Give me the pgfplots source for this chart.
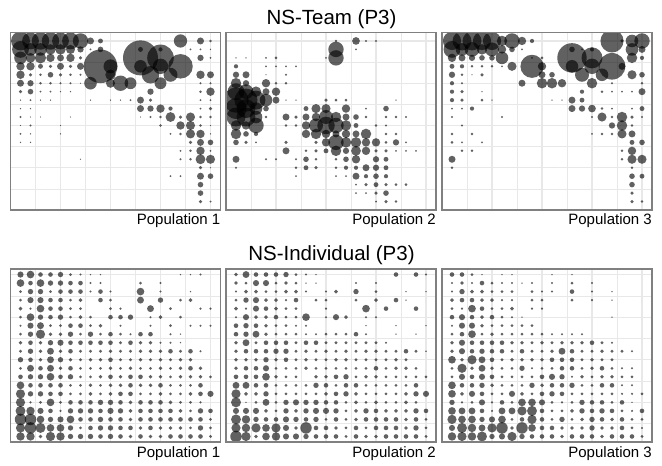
\documentclass[border=0pt]{standalone}
\usepackage{fontspec}
\setmainfont{Liberation Sans}
\usepackage{pgfplots}
\usepackage{pgfplotstable}
\pgfplotsset{compat=1.18}

% bubble radii (in 1/3 px units), rows j=1..20 from top, columns c1..c20
\pgfplotstableread{
j c1 c2 c3 c4 c5 c6 c7 c8 c9 c10 c11 c12 c13 c14 c15 c16 c17 c18 c19 c20
1 27 24 25 25 24 24 22 10 7 0 0 0 0 0 0 0 19 0 10 4
2 24 18 18 15 15 13 9 3 8 0 0 0 7 0 6 0 0 3 3 2
3 18 14 16 12 10 12 5 0 0 0 0 0 50 0 38 0 0 0 9 3
4 12 12 7 5 10 5 10 0 48 20 0 0 18 0 22 0 35 0 0 0
5 12 5 4 8 5 4 3 0 0 15 0 0 0 25 0 20 0 0 12 10
6 10 9 4 4 3 3 2 18 0 13 22 17 0 0 17 0 0 0 3 3
7 5 8 3 3 2 2 0 0 0 0 0 0 0 9 0 0 0 0 4 12
8 2 3 2 2 0 0 0 2 0 2 2 3 10 5 0 0 0 0 3 3
9 2 2 0 0 0 0 0 0 0 0 0 0 10 9 12 6 0 0 3 5
10 3 2 2 0 0 2 0 0 0 0 0 0 2 3 4 14 5 13 4 4
11 2 3 0 0 2 0 0 0 0 0 0 0 0 0 4 0 12 13 4 2
12 3 2 0 0 2 0 0 0 0 0 0 0 0 0 0 3 4 13 12 2
13 2 2 0 0 0 0 0 0 0 0 0 0 0 0 0 0 0 5 10 8
14 0 0 0 0 0 0 0 0 0 0 0 0 0 0 0 0 3 4 12 3
15 0 0 0 0 0 0 2 0 0 0 0 0 0 0 0 0 3 4 14 13
16 0 0 0 0 0 0 0 0 0 0 0 0 0 0 0 0 0 0 5 2
17 0 0 0 0 0 0 0 0 0 0 0 0 0 0 0 3 3 0 10 8
18 0 0 0 0 0 0 0 0 0 0 0 0 0 0 0 0 0 0 8 0
19 0 0 0 0 0 0 0 0 0 0 0 0 0 0 0 0 0 0 8 0
20 0 0 0 0 0 0 0 0 0 0 0 0 0 0 0 0 0 0 5 3
}\tA

\pgfplotstableread{
j c1 c2 c3 c4 c5 c6 c7 c8 c9 c10 c11 c12 c13 c14 c15 c16 c17 c18 c19 c20
1 0 0 0 0 0 0 0 0 0 0 4 0 11 3 3 0 0 0 0 0
2 0 0 0 0 0 0 0 0 0 0 22 0 3 0 0 0 0 0 0 0
3 2 2 0 3 4 0 0 0 0 3 22 0 0 0 0 0 0 0 0 0
4 6 0 0 3 3 3 3 0 0 0 0 0 0 0 0 0 0 0 0 0
5 9 10 0 2 0 3 0 0 0 0 0 0 0 0 0 0 0 0 0 0
6 15 9 0 12 4 4 0 0 0 0 0 0 0 0 0 0 0 0 0 0
7 24 21 15 10 12 0 0 0 0 0 0 0 0 0 0 0 0 0 0 0
8 36 33 27 18 10 2 2 0 0 5 4 4 0 0 0 0 2 0 0 0
9 30 27 18 8 0 0 0 7 13 13 0 12 0 3 0 8 0 0 0 0
10 27 27 18 4 0 10 5 10 12 20 15 10 8 4 0 4 4 3 0 0
11 15 12 22 0 0 4 4 12 20 25 22 15 7 0 4 3 0 0 0 0
12 15 8 6 0 0 0 0 12 15 12 10 12 10 15 0 4 4 0 0 0
13 8 5 3 0 0 5 0 0 5 12 22 15 15 12 12 4 9 3 0 0
14 0 0 0 0 0 10 0 4 5 7 15 9 14 12 5 5 3 3 3 0
15 10 0 0 3 3 0 3 8 4 0 4 8 12 0 9 7 0 0 0 0
16 3 0 0 0 0 0 4 7 5 0 4 6 6 10 9 7 0 0 0 0
17 0 0 0 0 0 0 3 0 0 0 3 3 10 6 8 6 0 0 0 0
18 0 0 0 0 0 0 0 0 0 0 0 0 3 5 7 5 4 4 0 0
19 0 0 0 0 0 0 0 0 0 0 0 0 3 3 5 8 0 0 0 0
20 0 0 0 0 0 0 0 0 0 0 0 0 0 0 3 5 4 0 0 0
}\tB

\pgfplotstableread{
j c1 c2 c3 c4 c5 c6 c7 c8 c9 c10 c11 c12 c13 c14 c15 c16 c17 c18 c19 c20
1 26 27 27 26 26 15 22 12 6 0 0 0 0 0 0 0 33 5 18 22
2 24 18 21 15 20 12 8 3 0 0 0 0 8 3 6 0 0 0 18 10
3 12 10 9 8 8 18 0 0 3 4 0 0 42 0 30 0 0 0 15 6
4 7 6 4 4 4 3 13 0 33 12 0 0 18 0 22 0 38 10 0 0
5 9 4 2 5 0 0 0 0 0 10 8 0 0 20 0 18 0 0 13 8
6 6 3 0 0 0 0 0 10 0 15 15 12 0 0 15 0 3 0 0 4
7 6 5 0 2 0 0 0 0 0 0 0 0 0 6 0 4 3 3 3 10
8 6 5 0 4 2 0 0 0 0 0 2 2 10 7 0 0 0 0 0 0
9 3 3 6 0 0 0 0 0 0 0 0 0 10 9 11 4 3 0 3 7
10 3 0 0 0 0 3 0 0 0 0 0 0 0 0 3 13 4 15 5 3
11 0 3 0 0 0 0 0 0 0 0 0 0 0 0 0 0 9 15 4 0
12 4 0 4 0 0 0 0 0 0 0 0 0 0 0 3 4 4 13 10 0
13 4 3 0 3 0 0 0 0 0 0 0 0 0 0 0 0 0 0 7 8
14 0 4 4 0 0 0 0 0 0 0 0 0 0 0 0 0 0 4 12 0
15 10 0 0 0 0 0 0 0 0 0 0 0 0 0 0 0 0 4 13 13
16 4 0 0 0 0 0 0 0 0 0 0 0 0 0 0 0 0 0 4 0
17 0 0 0 0 0 0 0 0 0 0 0 0 0 0 0 0 0 0 8 7
18 0 0 0 0 0 0 0 0 0 0 0 0 0 0 0 0 0 0 8 0
19 0 0 0 0 0 0 0 0 0 0 0 0 0 0 0 0 0 0 5 0
20 0 0 0 0 0 0 0 0 0 0 0 0 0 0 0 0 0 0 5 4
}\tC

\pgfplotstableread{
j c1 c2 c3 c4 c5 c6 c7 c8 c9 c10 c11 c12 c13 c14 c15 c16 c17 c18 c19 c20
1 8 10 6 6 7 4 3 2 2 0 0 0 0 0 0 0 2 2 3 0
2 10 6 10 7 7 6 6 3 3 0 0 0 4 0 3 0 0 0 0 0
3 4 7 7 4 6 6 6 3 6 3 0 0 10 0 3 0 0 2 0 0
4 4 8 8 6 6 4 5 0 6 4 0 0 9 0 7 0 4 5 0 0
5 5 3 10 6 6 4 4 0 0 4 3 0 0 9 0 4 0 0 3 3
6 4 10 7 6 7 4 5 4 0 6 6 7 0 3 5 0 4 0 0 0
7 3 8 9 4 4 6 6 4 5 0 3 0 0 3 0 4 0 3 3 3
8 4 7 12 5 5 7 4 7 4 6 4 3 6 6 0 3 2 0 0 0
9 5 6 5 7 8 6 6 6 6 6 4 6 5 5 3 3 2 0 0 0
10 4 7 5 9 5 6 4 4 4 5 4 4 5 5 5 6 4 6 3 0
11 7 6 5 9 7 5 4 5 5 6 4 4 5 4 5 4 5 5 0 0
12 4 9 6 9 5 6 4 4 4 5 4 5 4 4 5 4 5 6 5 0
13 6 7 7 10 6 7 4 4 5 6 5 6 6 5 5 4 5 5 5 4
14 10 6 6 6 6 4 4 5 4 5 5 6 5 5 6 4 4 4 6 0
15 12 7 7 6 6 4 4 5 4 5 6 6 4 4 5 4 4 5 6 8
16 12 3 4 10 4 6 6 6 7 7 6 5 6 6 6 5 4 4 3 0
17 13 11 8 6 3 7 7 7 6 8 7 5 6 6 6 6 5 4 7 6
18 15 15 10 7 8 10 6 6 7 6 6 5 6 6 6 6 6 6 6 4
19 12 15 13 10 10 7 4 6 7 7 6 6 5 6 5 5 5 4 7 4
20 11 11 5 12 11 7 7 7 6 7 6 5 6 5 5 6 6 6 6 4
}\tD

\pgfplotstableread{
j c1 c2 c3 c4 c5 c6 c7 c8 c9 c10 c11 c12 c13 c14 c15 c16 c17 c18 c19 c20
1 5 9 6 6 6 7 4 3 2 0 0 0 0 0 0 0 6 0 6 3
2 5 4 8 8 4 5 4 2 2 0 0 0 3 0 3 0 0 0 0 0
3 3 5 5 4 4 5 5 3 0 3 5 0 7 0 4 0 0 2 0 2
4 4 7 8 5 5 3 6 0 4 4 0 0 4 0 5 0 6 2 0 0
5 5 3 8 6 5 4 4 0 0 3 0 0 0 10 0 6 0 0 6 0
6 3 8 5 5 6 4 4 10 0 3 8 5 0 3 3 0 0 0 0 0
7 6 7 6 5 4 4 3 3 0 0 0 0 0 2 0 0 2 0 0 2
8 6 7 9 5 4 4 4 3 3 4 4 4 6 3 0 0 2 0 2 0
9 5 9 4 6 6 6 4 6 6 4 4 4 4 4 4 3 0 0 0 0
10 5 6 6 6 7 7 4 5 4 5 4 5 4 5 5 4 4 6 4 2
11 5 5 5 7 5 6 4 5 4 4 5 5 4 4 4 4 5 4 0 0
12 5 6 6 8 4 4 4 5 4 4 4 4 4 4 6 4 5 5 4 0
13 6 6 6 10 5 4 4 0 5 5 6 7 4 5 5 4 4 4 4 4
14 9 9 6 6 4 4 4 4 7 6 4 6 6 4 4 4 4 4 6 0
15 12 5 5 7 4 4 4 4 4 5 6 7 5 4 4 4 4 5 7 8
16 13 2 4 9 4 7 8 7 7 6 6 4 5 4 5 4 4 5 4 0
17 8 8 8 5 4 7 5 7 8 8 7 4 5 7 6 5 5 5 7 6
18 13 11 7 6 6 8 7 6 7 4 6 4 5 6 6 6 6 5 6 4
19 12 11 12 10 12 8 5 15 6 6 5 4 6 4 6 6 6 5 7 4
20 15 12 5 10 11 8 8 7 6 6 6 4 6 5 5 6 6 6 6 4
}\tE

\pgfplotstableread{
j c1 c2 c3 c4 c5 c6 c7 c8 c9 c10 c11 c12 c13 c14 c15 c16 c17 c18 c19 c20
1 6 6 4 2 0 2 2 0 0 0 2 0 2 0 0 0 0 0 0 0
2 3 5 3 6 4 3 3 2 3 0 3 0 4 0 3 0 0 0 0 0
3 3 7 5 5 4 4 4 0 4 3 3 0 6 0 3 0 2 0 0 0
4 5 6 6 5 5 3 3 0 4 4 0 0 4 0 3 0 2 0 0 0
5 4 3 10 6 4 4 5 0 3 3 0 0 0 0 0 0 0 0 0 0
6 6 8 6 5 6 4 3 2 0 0 0 0 0 0 0 0 2 0 0 0
7 3 8 8 5 4 4 4 4 4 0 0 0 0 0 0 0 0 0 0 0
8 4 6 10 4 5 4 4 4 4 4 3 3 3 3 0 0 0 0 0 0
9 5 8 6 6 6 6 5 5 4 5 4 5 5 5 6 4 3 0 0 0
10 5 8 6 7 6 6 4 6 4 4 5 9 6 4 4 5 4 4 3 0
11 10 5 12 9 6 4 5 5 5 5 6 6 6 4 5 4 4 0 0 0
12 4 12 5 9 5 4 4 7 3 4 4 6 6 4 5 6 4 3 3 0
13 4 8 6 8 6 4 4 4 4 6 8 7 3 5 4 5 5 4 4 0
14 10 6 6 7 5 4 4 4 7 5 6 6 7 4 4 6 6 3 3 0
15 10 5 8 6 4 4 8 5 4 6 7 6 4 4 4 4 4 3 3 4
16 7 3 4 8 3 6 4 10 10 8 4 3 4 7 6 6 4 6 2 0
17 10 9 9 6 3 9 9 12 13 6 4 4 5 7 6 7 6 4 3 6
18 12 10 10 7 8 10 4 6 12 6 4 7 4 5 7 6 5 6 4 4
19 8 13 11 9 12 15 5 15 10 6 6 5 5 5 7 5 5 6 4 3
20 11 12 11 13 7 8 12 7 6 6 6 5 6 6 6 5 6 6 6 4
}\tF

\pgfplotsset{
  panel/.style={scale only axis, width=210pt, xmin=0, xmax=21, y dir=reverse,
    xtick={5,10,15,20}, minor xtick={2.5,7.5,12.5,17.5},
    ytick={1,6,11,16}, minor ytick={3.5,8.5,13.5,18.5},
    grid=both,
    major grid style={draw=black!9, line width=1.1pt},
    minor grid style={draw=black!9, line width=0.6pt},
    xticklabels={}, yticklabels={}, tick style={draw=none},
    axis line style={draw=none}, clip marker paths=true,
    point meta min=0, point meta max=100, anchor=north west},
  row1/.style={height=177.5pt, ymin=0, ymax=21},
  row2/.style={height=173pt, ymin=0.35, ymax=20.65},
}

% #1 = size factor, #2 = table
\newcommand\bubbles[2]{%
  \pgfplotsinvokeforeach{1,...,20}{%
    \addplot[scatter, only marks, mark=*,
      scatter/use mapped color={draw=black, draw opacity=0, fill=black, fill opacity=0.62},
      mark options={draw opacity=0, fill=black, fill opacity=0.62, line width=0pt},
      visualization depends on={\thisrow{c##1}*#1/3 \as \rr},
      scatter/@pre marker code/.append style={/tikz/mark size=\rr pt}]
      table[x expr=##1, y=j, meta=c##1] {#2};
  }%
}

\begin{document}
\begin{tikzpicture}
\path[use as bounding box] (0,0) rectangle (662pt,-466pt);

\begin{axis}[panel,row1,name=p1,at={(10.5pt,-32.5pt)}]\bubbles{1.05}{\tA}\end{axis}
\begin{axis}[panel,row1,name=p2,at={(226pt,-32.5pt)}]\bubbles{1.05}{\tB}\end{axis}
\begin{axis}[panel,row1,name=p3,at={(442pt,-32.5pt)}]\bubbles{1.05}{\tC}\end{axis}
\begin{axis}[panel,row2,name=p4,at={(10.5pt,-269pt)}]\bubbles{1.15}{\tD}\end{axis}
\begin{axis}[panel,row2,name=p5,at={(226pt,-269pt)}]\bubbles{1.15}{\tE}\end{axis}
\begin{axis}[panel,row2,name=p6,at={(442pt,-269pt)}]\bubbles{1.15}{\tF}\end{axis}

\foreach \p in {p1,p2,p3,p4,p5,p6}
  \draw[black!50, line width=1.8pt] (\p.south west) rectangle (\p.north east);

\node[font=\fontsize{20.5pt}{24pt}\selectfont, anchor=base, inner sep=0pt] at (331.5pt,-24pt) {NS-Team (P3)};
\node[font=\fontsize{20.5pt}{24pt}\selectfont, anchor=base, inner sep=0pt] at (331.5pt,-260pt) {NS-Individual (P3)};

\foreach \p/\t in {p1/1,p2/2,p3/3}
  \node[font=\fontsize{15pt}{18pt}\selectfont, anchor=base east, inner sep=0pt] at ([yshift=-14pt]\p.south east) {Population \t};
\foreach \p/\t in {p4/1,p5/2,p6/3}
  \node[font=\fontsize{15pt}{18pt}\selectfont, anchor=base east, inner sep=0pt] at ([yshift=-15pt]\p.south east) {Population \t};
\end{tikzpicture}
\end{document}
